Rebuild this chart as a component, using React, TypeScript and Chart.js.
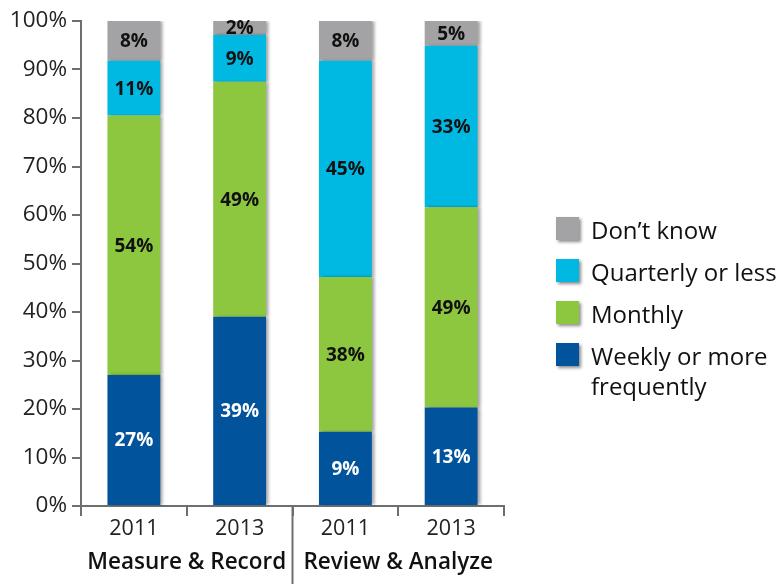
import React, { useEffect, useRef } from "react";
import { Chart, registerables } from "chart.js";

Chart.register(...registerables);

const categories = ["2011", "2013", "2011", "2013"];
const groups = ["Measure & Record", "Review & Analyze"];
const seriesNames = ["Weekly or more\nfrequently", "Monthly", "Quarterly or less", "Don\u2019t know"];
const seriesColors = ["#01539c", "#8dc63f", "#00b9e3", "#a3a3a5"];
const labelColors = ["#ffffff", "#111111", "#111111", "#111111"];

// segment heights as drawn in the picture
const weekly = [27, 39, 15.3, 20.3];
const monthly = [53.5, 48.5, 31.9, 41.3];
const quarterly = [11.3, 9.6, 44.6, 33.3];
const dontKnow = [8.2, 2.9, 8.2, 5.1];

// printed labels on the segments
const weeklyText = ["27%", "39%", "9%", "13%"];
const monthlyText = ["54%", "49%", "38%", "49%"];
const quarterlyText = ["11%", "9%", "45%", "33%"];
const dontKnowText = ["8%", "2%", "8%", "5%"];

const yTicks = [0, 10, 20, 30, 40, 50, 60, 70, 80, 90, 100];

const FONT = "'Open Sans', 'Noto Sans', sans-serif";
const AXIS_COLOR = "#6e6e6e";

export default function App() {
  const ref = useRef<HTMLCanvasElement>(null);

  useEffect(() => {
    document.body.style.margin = "0";
    const values = [weekly, monthly, quarterly, dontKnow];
    const texts = [weeklyText, monthlyText, quarterlyText, dontKnowText];

    const shadowPlugin = {
      id: "barShadow",
      beforeDatasetsDraw(chart: any) {
        const ctx = chart.ctx;
        ctx.save();
        ctx.shadowColor = "rgba(0,0,0,0.35)";
        ctx.shadowBlur = 3;
        ctx.shadowOffsetX = 3;
        ctx.shadowOffsetY = 0;
      },
      afterDatasetsDraw(chart: any) {
        chart.ctx.restore();
      },
    };

    const labelPlugin = {
      id: "segLabels",
      afterDatasetsDraw(chart: any) {
        const ctx = chart.ctx;
        ctx.save();
        ctx.font = `bold 19px ${FONT}`;
        ctx.textAlign = "center";
        ctx.textBaseline = "middle";
        chart.data.datasets.forEach((ds: any, di: number) => {
          const meta = chart.getDatasetMeta(di);
          meta.data.forEach((el: any, i: number) => {
            const t = texts[di][i];
            ctx.fillStyle = labelColors[di];
            ctx.fillText(t, el.x, (el.y + el.base) / 2 + 1);
          });
        });
        ctx.restore();
      },
    };

    const decorPlugin = {
      id: "decor",
      afterDraw(chart: any) {
        const ctx = chart.ctx;
        const xs = chart.scales.x;
        const area = chart.chartArea;
        const sep = (xs.getPixelForValue(1) + xs.getPixelForValue(2)) / 2;
        ctx.save();
        // group separator
        ctx.strokeStyle = AXIS_COLOR;
        ctx.lineWidth = 2;
        ctx.beginPath();
        ctx.moveTo(sep, area.bottom);
        ctx.lineTo(sep, chart.height);
        ctx.stroke();
        // group labels
        ctx.fillStyle = "#111111";
        ctx.font = `600 22.5px ${FONT}`;
        ctx.textAlign = "center";
        ctx.textBaseline = "middle";
        ctx.fillText(groups[0], (area.left + sep) / 2, 563);
        ctx.fillText(groups[1], (sep + area.right) / 2, 563);

        // legend (reverse order)
        const order = [3, 2, 1, 0];
        let y = 217;
        order.forEach((di) => {
          ctx.save();
          ctx.shadowColor = "rgba(0,0,0,0.45)";
          ctx.shadowBlur = 3;
          ctx.shadowOffsetX = 2;
          ctx.shadowOffsetY = 2;
          ctx.fillStyle = seriesColors[di];
          ctx.fillRect(556, y, 23, 23);
          ctx.restore();
          ctx.fillStyle = "#111111";
          ctx.font = `24px ${FONT}`;
          ctx.textAlign = "left";
          ctx.textBaseline = "middle";
          const lines = seriesNames[di].split("\n");
          lines.forEach((ln, k) => ctx.fillText(ln, 591, y + 15 + k * 30));
          y += 42;
        });
        ctx.restore();
      },
    };

    const chart = new Chart(ref.current!, {
      type: "bar",
      data: {
        labels: categories,
        datasets: values.map((v, i) => ({
          label: seriesNames[i].replace("\n", " "),
          data: v,
          backgroundColor: seriesColors[i],
          borderWidth: 0,
          barPercentage: 0.5,
          categoryPercentage: 1,
        })),
      },
      options: {
        responsive: false,
        animation: false,
        layout: { padding: { top: 21, right: 278, left: 0, bottom: 0 } },
        plugins: {
          legend: { display: false },
          tooltip: { enabled: false },
        },
        scales: {
          x: {
            stacked: true,
            afterFit: (s: any) => {
              s.height = 78;
            },
            grid: {
              offset: true,
              drawOnChartArea: false,
              drawTicks: true,
              tickLength: 10,
              color: AXIS_COLOR,
              lineWidth: 2,
            },
            border: { display: true, color: AXIS_COLOR, width: 2 },
            ticks: {
              color: "#222222",
              font: { family: FONT, size: 21.5 },
              padding: 0,
              maxRotation: 0,
            },
          },
          y: {
            stacked: true,
            min: 0,
            max: 100,
            afterFit: (s: any) => {
              s.width = 81;
            },
            afterBuildTicks: (s: any) => {
              s.ticks = yTicks.map((v) => ({ value: v }));
            },
            grid: {
              drawOnChartArea: false,
              drawTicks: true,
              tickLength: 9,
              color: AXIS_COLOR,
              lineWidth: 2,
            },
            border: { display: true, color: AXIS_COLOR, width: 2 },
            ticks: {
              color: "#222222",
              font: { family: FONT, size: 22.5 },
              padding: 5,
              callback: (v: any) => `${v}%`,
            },
          },
        },
      },
      plugins: [shadowPlugin, labelPlugin, decorPlugin],
    });
    return () => chart.destroy();
  }, []);

  return (
    <div style={{ position: "relative", width: 782, height: 584 }}>
      <canvas ref={ref} width={782} height={584} style={{ display: "block" }} />
    </div>
  );
}
